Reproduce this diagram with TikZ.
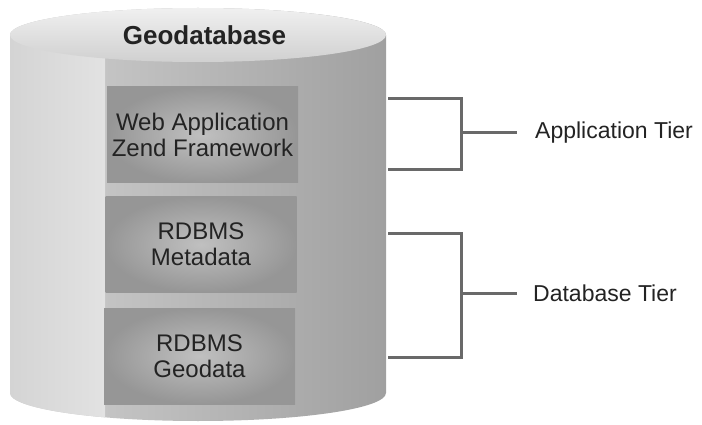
\documentclass[tikz,border=0pt]{standalone}
\usepackage{fontspec}
\setmainfont{Liberation Sans}
\definecolor{txt}{RGB}{35,35,35}
\definecolor{brk}{RGB}{105,105,105}
\definecolor{bodyL}{RGB}{208,208,208}
\definecolor{bodyR}{RGB}{160,160,160}
\definecolor{bandA}{RGB}{212,212,212}
\definecolor{bandB}{RGB}{242,242,242}
\definecolor{bandC}{RGB}{226,226,226}
\definecolor{topA}{RGB}{240,240,240}
\definecolor{topB}{RGB}{208,208,208}
\definecolor{boxIn}{RGB}{192,192,192}
\definecolor{boxOut}{RGB}{150,150,150}
\begin{document}
\begin{tikzpicture}[x=1pt,y=1pt,
  tierbox/.style={shade, inner color=boxIn, outer color=boxOut,
    minimum width=191pt, minimum height=96pt, inner sep=0pt,
    align=center, text=txt, font=\fontsize{24}{26}\selectfont},
  bracket/.style={draw=brk, line width=3pt, line join=miter},
  tierlabel/.style={anchor=west, inner sep=0pt, text=txt,
    font=\fontsize{23}{26}\selectfont}]
\useasboundingbox (0,0) rectangle (702,-425);

% cylinder body
\def\bodypath{(10,-35) -- (10,-393)
  arc[start angle=180, end angle=360, x radius=188pt, y radius=28pt]
  -- (386,-35)
  arc[start angle=0, end angle=180, x radius=188pt, y radius=27pt] -- cycle}
\shade[left color=bodyL, right color=bodyR] \bodypath;
\begin{scope}
  \clip \bodypath;
  \shade[left color=bandA, middle color=bandB, right color=bandC]
    (10,0) rectangle (105,-425);
\end{scope}
% top face
\shade[top color=topA, bottom color=topB]
  (198,-35) ellipse [x radius=188pt, y radius=27pt];
\node[anchor=base, inner sep=0pt, text=txt,
  font=\fontsize{26}{30}\selectfont\bfseries] (title) at (204.5,-45) {Geodatabase};

% layers
\node[tierbox] (web)  at (202.5,-135) {Web Application\\Zend Framework};
\node[tierbox] (meta) at (201,-244.5) {RDBMS\\Metadata};
\node[tierbox] (geo)  at (199.5,-356) {RDBMS\\Geodata};

% application tier bracket
\coordinate (a1) at (388,-99);
\coordinate (a2) at (461,-99);
\coordinate (a3) at (461,-170);
\coordinate (a4) at (388,-170);
\coordinate (am) at (461,-133);
\draw[bracket] (a1) -- (a2) -- (a3) -- (a4);
\node[tierlabel] (app) at (535,-133) {Application Tier};
\draw[bracket] (am) -- ([xshift=-18pt]app.west);

% database tier bracket
\coordinate (d1) at (388,-233);
\coordinate (d2) at (461,-233);
\coordinate (d3) at (461,-357);
\coordinate (d4) at (388,-357);
\coordinate (dm) at (461,-293);
\draw[bracket] (d1) -- (d2) -- (d3) -- (d4);
\node[tierlabel] (db) at (533,-293) {Database Tier};
\draw[bracket] (dm) -- ([xshift=-16pt]db.west);
\end{tikzpicture}
\end{document}
